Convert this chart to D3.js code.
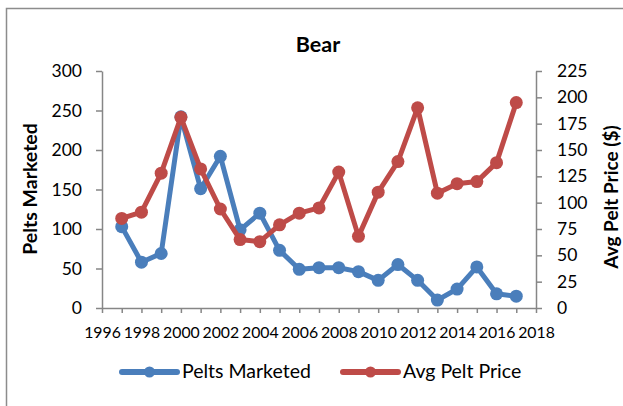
<!DOCTYPE html>
<html>
  <head>
    <meta charset="UTF-8">
    <style>
      body {
        margin: 0;
        background: white;
        font-family: Lato, "Open Sans", sans-serif;
      }

      .axis .domain,
      .axis .tick line {
        stroke: #868686;
        stroke-width: 1.5px;
      }

      .axis text {
        fill: black;
        font-family: Lato, "Open Sans", sans-serif;
      }
    </style>
    <script src="https://d3js.org/d3.v7.min.js"></script>
  </head>

  <body>
    <svg id="chart"></svg>

    <script type="text/javascript">
      let years = [1997, 1998, 1999, 2000, 2001, 2002, 2003, 2004, 2005, 2006, 2007,
        2008, 2009, 2010, 2011, 2012, 2013, 2014, 2015, 2016, 2017]
      let peltsMarketed = [103, 58, 69, 242, 151, 192, 99, 120, 73, 49, 51,
        51, 46, 35, 55, 35, 10, 24, 52, 18, 15]
      let avgPeltPrice = [85, 91, 128, 181, 132, 94, 65, 63, 79, 90, 95,
        129, 68, 110, 139, 190, 109, 118, 120, 138, 195]
      let xTicks = d3.range(1996, 2019)
      let xLabels = d3.range(1996, 2019, 2)
      let leftTicks = [0, 50, 100, 150, 200, 250, 300]
      let rightTicks = [0, 25, 50, 75, 100, 125, 150, 175, 200, 225]
      let seriesNames = ['Pelts Marketed', 'Avg Pelt Price']

      let colors = { pelts: '#4a7ebb', price: '#be4b48' }

      function getChartConfig() {
        let width = 623
        let height = 406
        let margin = { top: 71, bottom: 98, left: 102, right: 87 }
        let bodyWidth = width - margin.left - margin.right
        let bodyHeight = height - margin.top - margin.bottom

        let container = d3.select('#chart')
          .attr('width', width)
          .attr('height', height)

        return { width, height, margin, bodyWidth, bodyHeight, container }
      }

      function getChartScales(config) {
        let x = d3.scaleLinear()
          .domain([1996, 2018])
          .range([config.margin.left, config.margin.left + config.bodyWidth])

        let yLeft = d3.scaleLinear()
          .domain([0, 300])
          .range([config.margin.top + config.bodyHeight, config.margin.top])

        let yRight = d3.scaleLinear()
          .domain([0, 225])
          .range([config.margin.top + config.bodyHeight, config.margin.top])

        return { x, yLeft, yRight }
      }

      function drawFrame(config) {
        config.container.append('path')
          .attr('d', `M6.5,${config.height} V8.5 H${config.width}`)
          .attr('fill', 'none')
          .attr('stroke', '#8c8c8c')
          .attr('stroke-width', 1.5)

        config.container.append('text')
          .attr('x', 318)
          .attr('y', 52)
          .attr('text-anchor', 'middle')
          .style('font-size', '21.5px')
          .style('font-weight', 'bold')
          .text('Bear')
      }

      function drawAxes(scales, config) {
        let bottom = config.margin.top + config.bodyHeight
        let right = config.margin.left + config.bodyWidth

        let axisX = d3.axisBottom(scales.x)
          .tickValues(xTicks)
          .tickSize(5)
          .tickSizeOuter(0)
          .tickFormat(d => xLabels.includes(d) ? d : '')
        let gx = config.container.append('g')
          .attr('class', 'axis')
          .attr('transform', `translate(0, ${bottom})`)
          .call(axisX)
        gx.selectAll('text')
          .attr('dy', 0)
          .attr('y', 30)
          .style('font-size', '15.8px')

        let axisLeft = d3.axisLeft(scales.yLeft)
          .tickValues(leftTicks)
          .tickSize(6)
          .tickSizeOuter(0)
        let gl = config.container.append('g')
          .attr('class', 'axis')
          .attr('transform', `translate(${config.margin.left}, 0)`)
          .call(axisLeft)
        gl.selectAll('text')
          .attr('x', -20)
          .style('font-size', '17.5px')

        let axisRight = d3.axisRight(scales.yRight)
          .tickValues(rightTicks)
          .tickSize(6)
          .tickSizeOuter(0)
        let gr = config.container.append('g')
          .attr('class', 'axis')
          .attr('transform', `translate(${right}, 0)`)
          .call(axisRight)
        gr.selectAll('text')
          .attr('x', 21)
          .style('font-size', '17.5px')

        config.container.append('text')
          .attr('transform', 'translate(37, 189) rotate(-90)')
          .attr('text-anchor', 'middle')
          .style('font-size', '19.5px')
          .style('font-weight', 'bold')
          .text('Pelts Marketed')

        config.container.append('text')
          .attr('transform', 'translate(618, 197) rotate(-90)')
          .attr('text-anchor', 'middle')
          .style('font-size', '19px')
          .style('font-weight', 'bold')
          .text('Avg Pelt Price ($)')
      }

      function drawSeries(values, yScale, color, scales, config) {
        let points = years.map((year, i) => ({ year, value: values[i] }))

        config.container.append('path')
          .datum(points)
          .attr('d', d3.line()
            .x(d => scales.x(d.year))
            .y(d => yScale(d.value)))
          .attr('fill', 'none')
          .attr('stroke', color)
          .attr('stroke-width', 5)
          .attr('stroke-linejoin', 'round')

        config.container.append('g')
          .selectAll('circle')
          .data(points)
          .join('circle')
          .attr('cx', d => scales.x(d.year))
          .attr('cy', d => yScale(d.value))
          .attr('r', 6.5)
          .attr('fill', color)
      }

      function drawLegend(config) {
        let items = [
          { name: seriesNames[0], color: colors.pelts, x: 122 },
          { name: seriesNames[1], color: colors.price, x: 343 },
        ]

        let g = config.container.append('g')
          .attr('transform', 'translate(0, 372)')

        items.forEach(item => {
          g.append('line')
            .attr('x1', item.x)
            .attr('x2', item.x + 55)
            .attr('stroke', item.color)
            .attr('stroke-width', 6)
            .attr('stroke-linecap', 'round')
          g.append('circle')
            .attr('cx', item.x + 27.5)
            .attr('r', 5.5)
            .attr('fill', item.color)
          g.append('text')
            .attr('x', item.x + 60)
            .attr('y', 6)
            .style('font-size', '19.5px')
            .text(item.name)
        })
      }

      let config = getChartConfig()
      let scales = getChartScales(config)
      drawFrame(config)
      drawAxes(scales, config)
      drawSeries(peltsMarketed, scales.yLeft, colors.pelts, scales, config)
      drawSeries(avgPeltPrice, scales.yRight, colors.price, scales, config)
      drawLegend(config)
    </script>
  </body>
</html>
